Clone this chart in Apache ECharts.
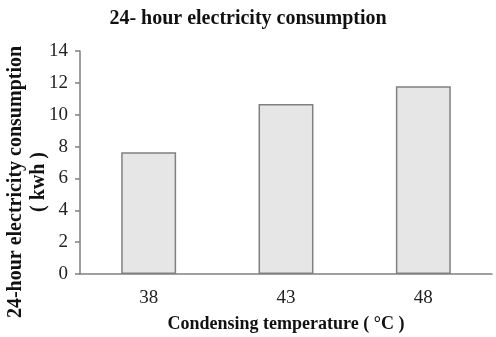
<!DOCTYPE html>
<html>
<head>
<meta charset="utf-8">
<script src="https://cdn.jsdelivr.net/npm/echarts@6/dist/echarts.min.js"></script>
<style>html,body{margin:0;padding:0;background:#fff}#c{width:496px;height:337px}</style>
</head>
<body>
<div id="c"></div>
<script>
const categories = ['38', '43', '48'];
const consumption = [7.65, 10.68, 11.78];
const titleText = '24- hour electricity consumption';
const xName = 'Condensing temperature ( °C )';
const yName = '24-hour electricity consumption\n( kwh )';

const serif = '"Liberation Serif", "Times New Roman", serif';
const chart = echarts.init(document.getElementById('c'), null, {renderer: 'canvas'});
chart.setOption({
  animation: false,
  backgroundColor: '#fff',
  title: {
    text: titleText, left: 'center', top: 4,
    textStyle: {fontFamily: serif, fontWeight: 'bold', fontSize: 20, color: '#111'}
  },
  grid: {left: 80, right: 4, top: 51, bottom: 63, outerBoundsMode: 'none'},
  xAxis: {
    type: 'category', data: categories,
    name: xName, nameLocation: 'middle', nameGap: 41,
    nameTextStyle: {fontFamily: serif, fontWeight: 'bold', fontSize: 18, color: '#111'},
    axisLine: {lineStyle: {color: '#808080', width: 1.5}},
    axisTick: {show: false},
    axisLabel: {fontFamily: serif, fontSize: 19, color: '#222', margin: 15}
  },
  yAxis: {
    type: 'value', min: 0, max: 14, interval: 2,
    axisLine: {show: true, lineStyle: {color: '#808080', width: 1.5}},
    axisTick: {show: true, length: 5, lineStyle: {color: '#808080', width: 1.5}},
    splitLine: {show: false},
    axisLabel: {fontFamily: serif, fontSize: 19, color: '#222', margin: 12}
  },
  graphic: [{
    type: 'text', x: 27, y: 182, rotation: Math.PI / 2,
    style: {
      text: yName, align: 'center', verticalAlign: 'middle',
      font: 'bold 20px ' + serif, fill: '#111', lineHeight: 23
    }
  }],
  series: [{
    type: 'bar', data: consumption, barWidth: '40%',
    itemStyle: {color: '#e6e6e6', borderColor: '#808080', borderWidth: 1.5}
  }]
});
</script>
</body>
</html>
